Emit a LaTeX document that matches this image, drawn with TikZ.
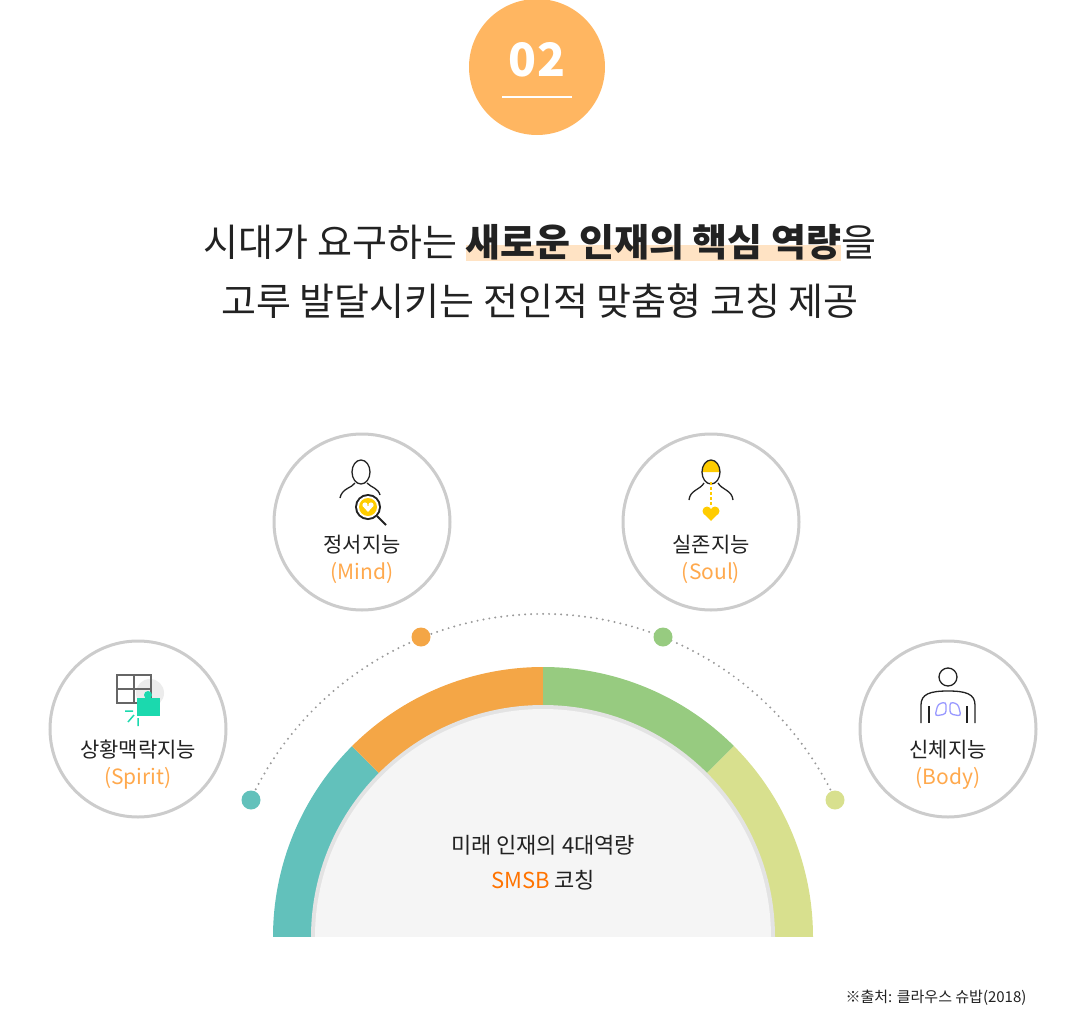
\documentclass[tikz,border=0pt]{standalone}
\usepackage{fontspec}
\setmainfont{Noto Sans CJK KR}
\definecolor{badge}{HTML}{FFB661}
\definecolor{segteal}{HTML}{62C1BB}
\definecolor{segorange}{HTML}{F4A646}
\definecolor{seggreen}{HTML}{97CB80}
\definecolor{seglime}{HTML}{D8E08E}
\definecolor{ringgray}{HTML}{CCCCCC}
\definecolor{txt}{HTML}{222222}
\definecolor{accent}{HTML}{FFA94D}
\definecolor{hilite}{HTML}{FFE3C4}
\definecolor{iconyellow}{HTML}{FFCC00}
\definecolor{icongreen}{HTML}{1BD9AE}
\newcommand\hlmark[1]{\setbox0\hbox{#1}\rlap{\textcolor{hilite}{\rule[-0.12em]{\wd0}{0.42em}}}\box0}
\tikzset{
  ring/.style={circle, draw=ringgray, line width=3pt, fill=white, minimum size=176pt},
  dot/.style={circle, fill=#1, minimum size=19pt, inner sep=0pt},
  kname/.style={font=\fontsize{21}{24}\selectfont, text=txt},
  ename/.style={font=\fontsize{21}{24}\selectfont, text=accent},
  iconline/.style={draw=txt, line width=1.3pt}
}
\begin{document}
\begin{tikzpicture}[x=1pt,y=-1pt]
  \useasboundingbox (0,0) rectangle (1080,1012);

  % badge
  \node[circle, fill=badge, minimum size=136pt] (badge) at (537,67) {};
  \node[text=white, font=\fontsize{46}{46}\selectfont\bfseries] (num) at (537,60) {02};
  \draw[white, line width=2pt] (502,97) -- (572,97);

  % title
  \node[font=\fontsize{38}{44}\selectfont, text=txt] (line1) at (540,243)
    {시대가 요구하는 \hlmark{\textbf{새로운 인재의 핵심 역량}}을};
  \node[font=\fontsize{38}{44}\selectfont, text=txt] (line2) at (540,301)
    {고루 발달시키는 전인적 맞춤형 코칭 제공};

  % dotted arc
  \draw[gray!80, line width=2.2pt, dash pattern=on 0pt off 6pt, line cap=round]
    (543,937) ++(-154.9:323) arc[start angle=-154.9, end angle=-25, radius=323];

  % semicircle segments
  \foreach \a/\b/\c in {180/135/segteal, 135/90/segorange, 90/45/seggreen, 45/0/seglime}{
    \fill[\c] (543,937) -- ++(-\a:270)
      arc[start angle=-\a, end angle=-\b, radius=270] -- cycle;
  }
  \fill[gray!22] (543,937) circle (232);
  \fill[gray!8] (543,937) circle (228);
  \fill[white] (0,937) rectangle (1080,1012);

  \node[font=\fontsize{22}{26}\selectfont, text=txt] (core1) at (543,845) {미래 인재의 4대역량};
  \node[font=\fontsize{22}{26}\selectfont] (core2) at (543,880)
    {\textcolor{orange!90!red}{SMSB} \textcolor{txt}{코칭}};

  % dots
  \node[dot=segteal] (d1) at (251,800) {};
  \node[dot=segorange] (d2) at (421,637) {};
  \node[dot=seggreen] (d3) at (663,637) {};
  \node[dot=seglime] (d4) at (835,800) {};

  % rings
  \node[ring] (mind) at (362,522) {};
  \node[ring] (soul) at (711,522) {};
  \node[ring] (spirit) at (138,729) {};
  \node[ring] (body) at (948,729) {};

  \node[kname] at (362,545) {정서지능};
  \node[ename] at (362,573) {(Mind)};
  \node[kname] at (711,545) {실존지능};
  \node[ename] at (711,573) {(Soul)};
  \node[kname] at (138,750) {상황맥락지능};
  \node[ename] at (138,778) {(Spirit)};
  \node[kname] at (948,750) {신체지능};
  \node[ename] at (948,778) {(Body)};

  % mind icon
  \draw[iconline] (361,472) ellipse (9 and 12);
  \draw[iconline] (340,498) .. controls (342,488) and (352,488) .. (355,483);
  \draw[iconline] (367,483) .. controls (372,488) and (378,488) .. (380,495);
  \fill[txt] (368,507) circle (13);
  \fill[white] (368,507) circle (11);
  \fill[iconyellow] (368,507) circle (9);
  \draw[txt, line width=2pt] (377,516) -- (386,525);
  \fill[white] (365,505) circle (2.6) (371,505) circle (2.6);
  \fill[white] (362.7,506) -- (368,512) -- (373.3,506) -- cycle;

  % soul icon
  \fill[iconyellow] (702,472) arc[start angle=180, end angle=360, x radius=9, y radius=12] -- cycle;
  \draw[iconline] (711,472) ellipse (9 and 12);
  \draw[iconline] (689,500) .. controls (690,490) and (700,490) .. (704,483);
  \draw[iconline] (718,483) .. controls (722,490) and (732,490) .. (733,500);
  \draw[iconyellow, line width=1.2pt, dash pattern=on 3pt off 2pt] (711,482) -- (711,506);
  \fill[iconyellow] (707,511) circle (4.5) (715,511) circle (4.5);
  \fill[iconyellow] (702.8,512.5) -- (711,521) -- (719.2,512.5) -- cycle;

  % spirit icon
  \fill[gray!15] (150,693) circle (14);
  \draw[iconline, draw=gray!80!black] (117,675) rectangle (151,703);
  \draw[iconline, draw=gray!80!black] (134,675) -- (134,703) (117,689) -- (151,689);
  \fill[icongreen] (137,698) rectangle (160,716);
  \fill[icongreen] (148,695) circle (4);
  \draw[icongreen, line width=1.5pt] (133,711) -- (125,711) (134,715) -- (128,722) (138,718) -- (138,726);

  % body icon
  \draw[iconline] (948,677) circle (9);
  \draw[iconline] (921,723) -- (921,705) .. controls (921,694) and (930,691) .. (948,691)
    .. controls (966,691) and (975,694) .. (975,705) -- (975,723);
  \draw[blue!40, line width=1.3pt, rounded corners=3pt] (946,702) -- (938,704) -- (935,716) -- (946,714) -- cycle;
  \draw[blue!40, line width=1.3pt, rounded corners=3pt] (950,702) -- (958,704) -- (961,716) -- (950,714) -- cycle;
  \draw[iconline] (929,706) -- (929,723) (967,706) -- (967,723);

  % source
  \node[anchor=east, font=\fontsize{15}{18}\selectfont, text=txt] (src) at (1030,998)
    {※출처: 클라우스 슈밥(2018)};
\end{tikzpicture}
\end{document}
